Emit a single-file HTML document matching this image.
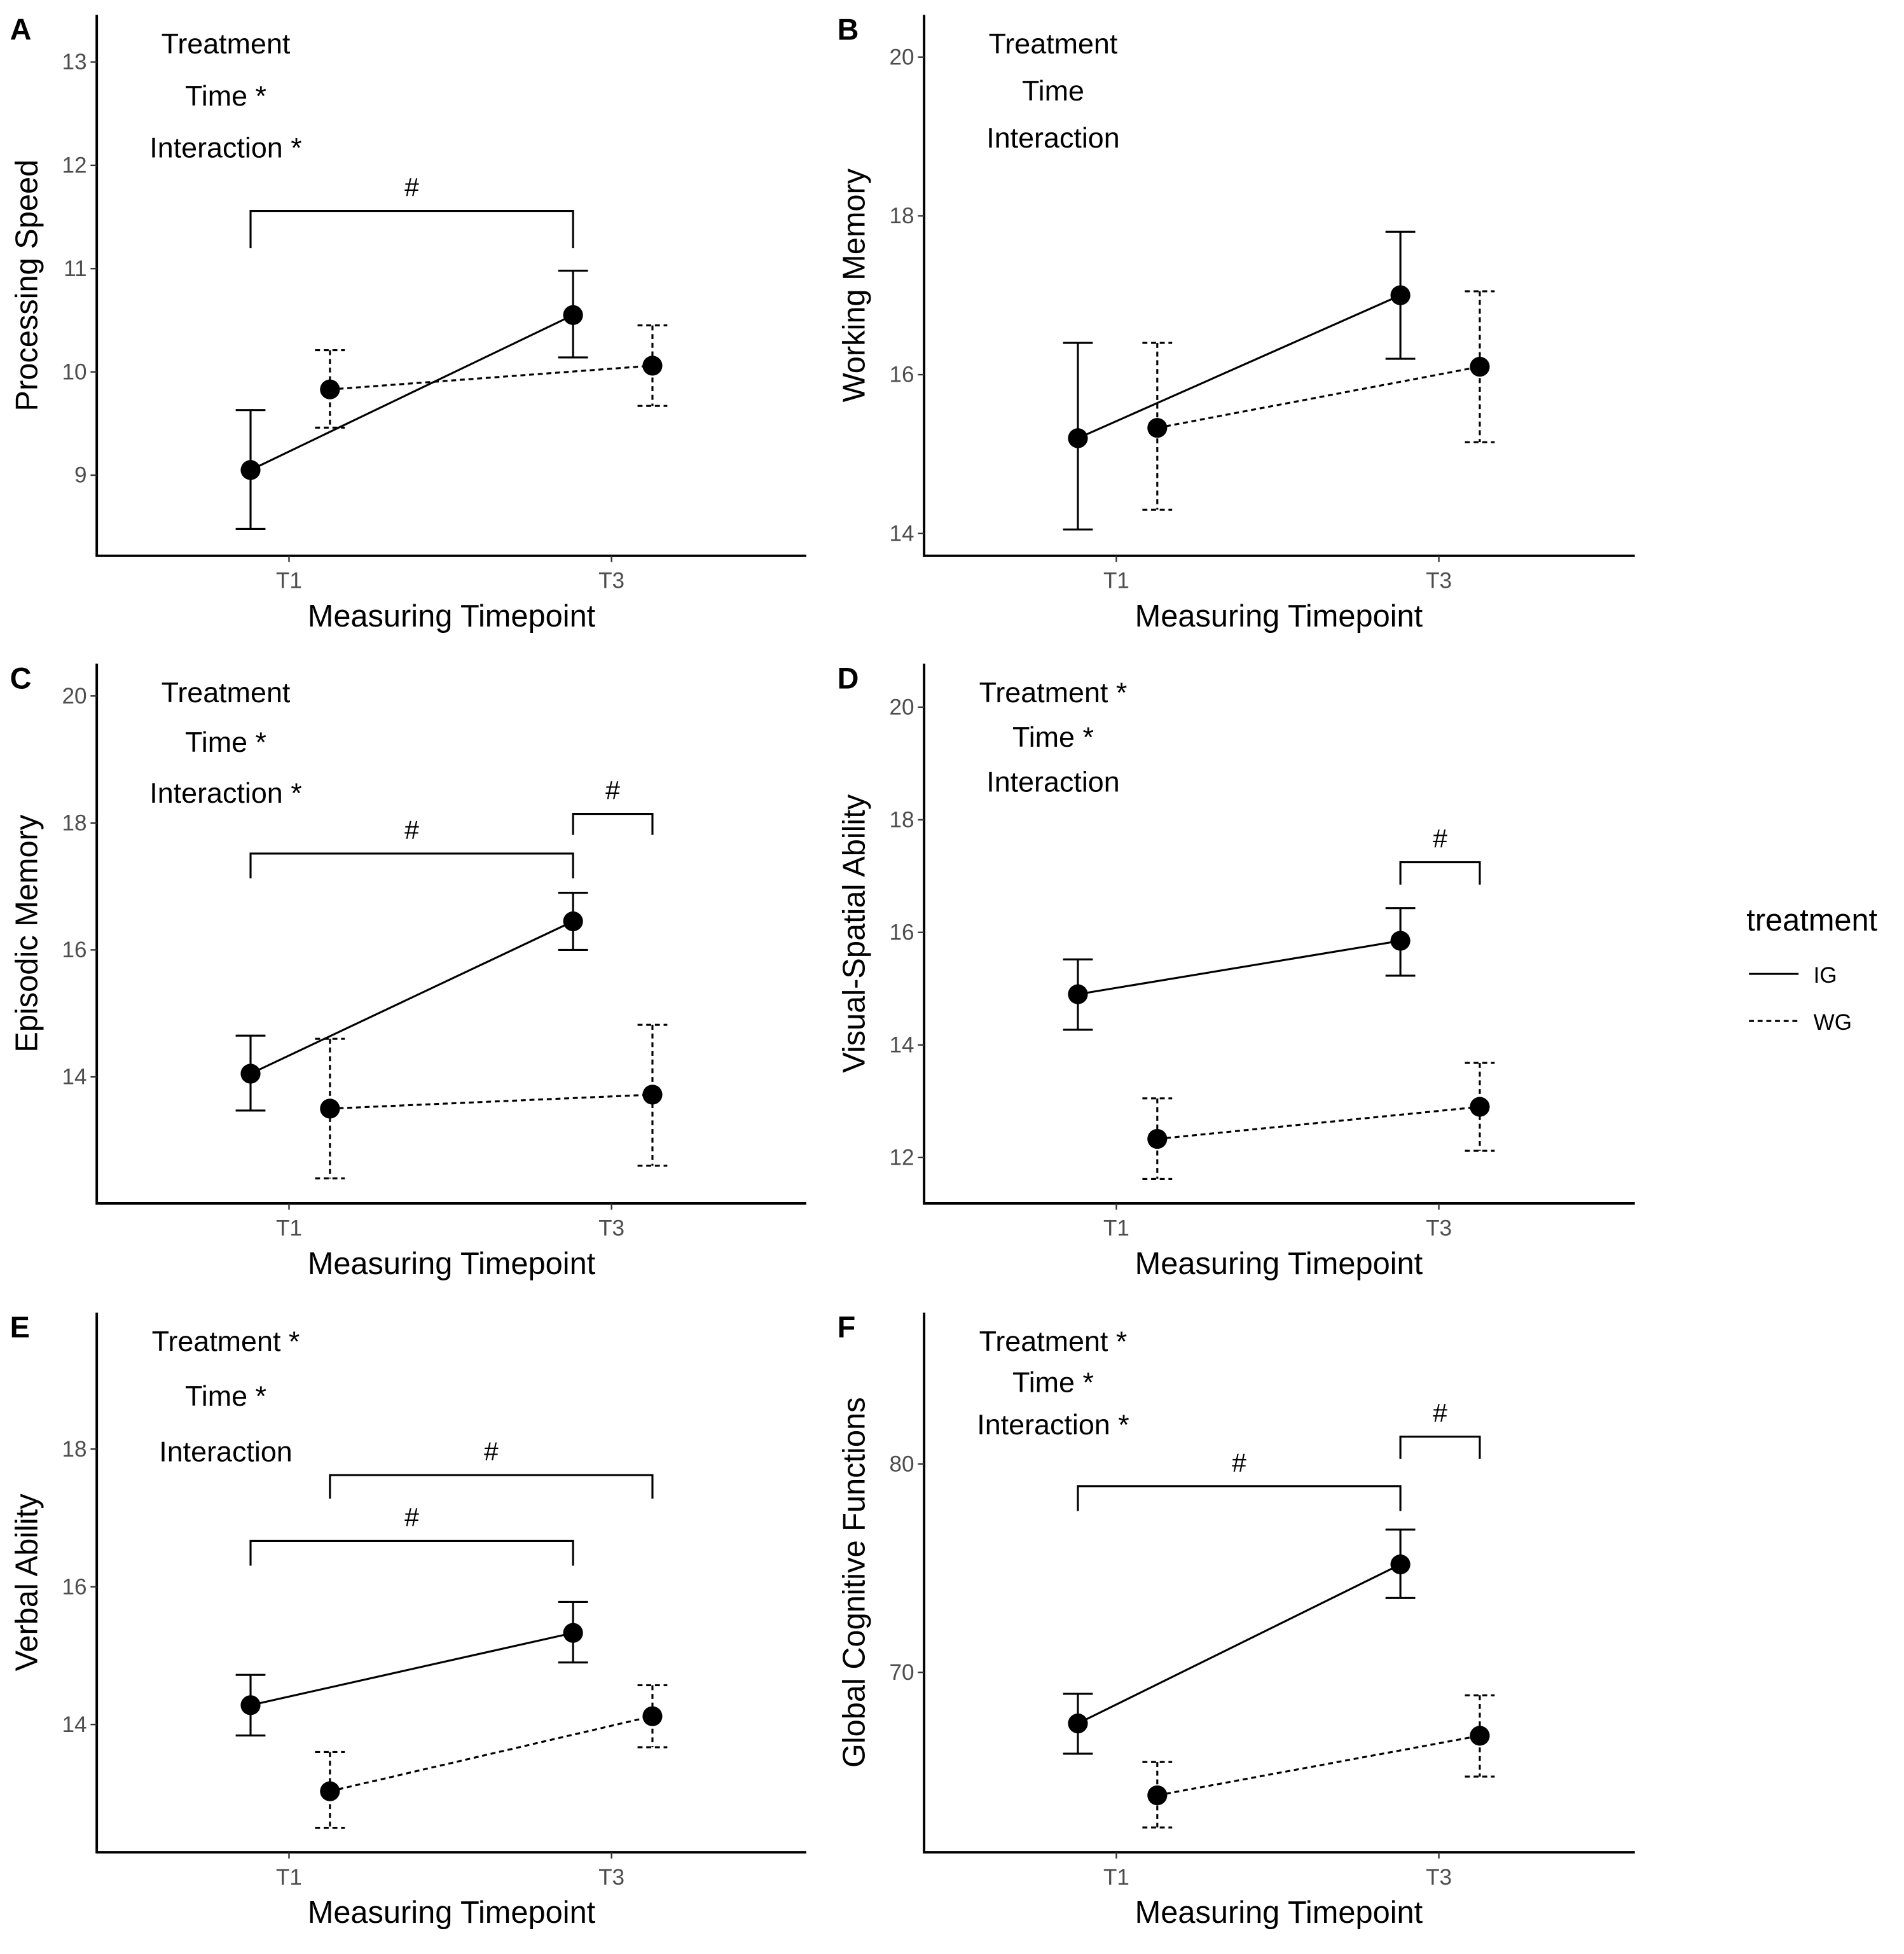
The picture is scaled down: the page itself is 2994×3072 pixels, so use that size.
<!DOCTYPE html>
<html><head><meta charset="utf-8"><style>
html,body{margin:0;padding:0;background:#fff}
svg{display:block}
text{font-family:"Liberation Sans",Arial,sans-serif}
</style></head><body>
<svg id="c" width="2994" height="3072" viewBox="0 0 1535 1575" xmlns="http://www.w3.org/2000/svg"></svg>
<script>
const panelLetters=["A","B","C","D","E","F"];
const yTitles=["Processing Speed","Working Memory","Episodic Memory","Visual-Spatial Ability","Verbal Ability","Global Cognitive Functions"];
const yTicks=[[9,10,11,12,13],[14,16,18,20],[14,16,18,20],[12,14,16,18,20],[14,16,18],[70,80]];
const timepoints=["T1","T3"];
const igMean=[[9.05,10.55],[15.2,17.0],[14.05,16.45],[14.9,15.85],[14.28,15.33],[67.55,75.18]];
const igLow=[[8.48,10.14],[14.05,16.2],[13.47,16.0],[14.27,15.23],[13.84,14.9],[66.1,73.57]];
const igHigh=[[9.63,10.98],[16.4,17.8],[14.65,16.9],[15.52,16.43],[14.72,15.78],[68.97,76.85]];
const wgMean=[[9.83,10.06],[15.33,16.1],[13.5,13.72],[12.33,12.9],[13.03,14.12],[64.1,66.96]];
const wgLow=[[9.46,9.67],[14.3,15.15],[12.4,12.6],[11.62,12.12],[12.5,13.67],[62.56,65.0]];
const wgHigh=[[10.21,10.45],[16.4,17.05],[14.6,14.82],[13.05,13.68],[13.6,14.57],[65.7,68.9]];
const effects=[["Treatment","Time *","Interaction *"],["Treatment","Time","Interaction"],["Treatment","Time *","Interaction *"],["Treatment *","Time *","Interaction"],["Treatment *","Time *","Interaction"],["Treatment *","Time *","Interaction *"]];
const L=[{x0:78,x1:650,top:12,bot:448,ref:[13,50,9,383],eff:[42,84,126]},
{x0:745,x1:1318,top:12,bot:448,ref:[20,46,14,430],eff:[42,80,118]},
{x0:78,x1:650,top:535,bot:970,ref:[20,561,14,868],eff:[565,605,646]},
{x0:745,x1:1318,top:535,bot:970,ref:[20,570,12,933],eff:[565,601,637]},
{x0:78,x1:650,top:1058,bot:1493,ref:[18,1168,14,1390],eff:[1088,1132,1177]},
{x0:745,x1:1318,top:1058,bot:1493,ref:[80,1180,70,1348],eff:[1088,1121,1155]}];
const brackets=[[0,0,0,0,1,170,200],[2,0,0,0,1,688,708],[2,0,1,1,1,656,673],[3,0,1,1,1,695,713],[4,1,0,1,1,1189,1208],[4,0,0,0,1,1242,1262],[5,0,0,0,1,1198,1218],[5,0,1,1,1,1158,1176]];
const svg=document.getElementById('c');
const NS="http://www.w3.org/2000/svg";
function mk(t,a,p){const e=document.createElementNS(NS,t);for(const k in a)e.setAttribute(k,a[k]);(p||svg).appendChild(e);return e;}
function tx(s,x,y,sz,fill,anchor,p){const e=mk('text',{x:x,y:y,'font-size':sz,fill:fill,'text-anchor':anchor},p);e.textContent=s;return e;}
panelLetters.forEach((letter,i)=>{
 const l=L[i];
 const g=mk('g',{});
 
 
 const ys=v=>l.ref[1]+(v-l.ref[0])*(l.ref[3]-l.ref[1])/(l.ref[2]-l.ref[0]);
 const tx1=l.x0+155, tx3=l.x0+415;
 const xs=(s,t)=>(t===0?tx1:tx3)+(s===0?-31:33);
 const pl=tx(letter,l.x0-70,32+l.top-12,24,'#000','start',g);pl.setAttribute('font-weight','bold');
 
 const ax=mk('path',{d:`M${l.x0},${l.top}V${l.bot}H${l.x1}`,stroke:'#000','stroke-width':2,fill:'none'},g);
 
 yTicks[i].forEach(v=>{const y=ys(v);mk('line',{x1:l.x0-5,x2:l.x0,y1:y,y2:y,stroke:'#333','stroke-width':1.2},g);
  const t=tx(String(v),l.x0-8,y+6,18,'#4d4d4d','end',g);});
 timepoints.forEach((tp,k)=>{const x=k===0?tx1:tx3;mk('line',{x1:x,x2:x,y1:l.bot,y2:l.bot+5,stroke:'#333','stroke-width':1.2},g);
  const t=tx(tp,x,l.bot+26,18,'#4d4d4d','middle',g);});
 const xt=tx("Measuring Timepoint",l.x0+286,l.bot+57,25,'#000','middle',g);
 const cy=(l.top+l.bot)/2;
 const yt=tx(yTitles[i],0,0,25,'#000','middle',g);yt.setAttribute('transform',`translate(${l.x0-48},${cy}) rotate(-90)`);
 
 effects[i].forEach((s,k)=>{const t=tx(s,l.x0+104,l.eff[k]+1,23,'#000','middle',g);});
 [[igMean,igLow,igHigh,null],[wgMean,wgLow,wgHigh,'4,3']].forEach((S,s)=>{
  const m=S[0][i],lo=S[1][i],hi=S[2][i],da=S[3];
  const st={stroke:'#000','stroke-width':1.6,fill:'none'};if(da)st['stroke-dasharray']=da;
  const ln=mk('line',Object.assign({x1:xs(s,0),y1:ys(m[0]),x2:xs(s,1),y2:ys(m[1])},st),g);
  
  for(let t=0;t<2;t++){const x=xs(s,t);
   const eb=mk('path',Object.assign({d:`M${x-12},${ys(hi[t])}H${x+12}M${x},${ys(hi[t])}V${ys(lo[t])}M${x-12},${ys(lo[t])}H${x+12}`},st),g);
   
   const pt=mk('circle',{cx:x,cy:ys(m[t]),r:8,fill:'#000'},g);
   }
 });
 brackets.filter(b=>b[0]===i).forEach(b=>{const xa=xs(b[1],b[2]),xb=xs(b[3],b[4]);
  const p=mk('path',{d:`M${xa},${b[6]}V${b[5]}H${xb}V${b[6]}`,stroke:'#000','stroke-width':1.6,fill:'none'},g);
  
  const h=tx('#',(xa+xb)/2,b[5]-12,21,'#000','middle',g);});
});
const lg=mk('g',{});


tx('treatment',1408,750,25,'#000','start',lg);
mk('line',{x1:1410,x2:1450,y1:785,y2:785,stroke:'#000','stroke-width':1.6},lg);
tx('IG',1462,792,18,'#000','start',lg);
mk('line',{x1:1410,x2:1450,y1:823,y2:823,stroke:'#000','stroke-width':1.6,'stroke-dasharray':'4,3'},lg);
tx('WG',1462,830,18,'#000','start',lg);
</script>
</body></html>
